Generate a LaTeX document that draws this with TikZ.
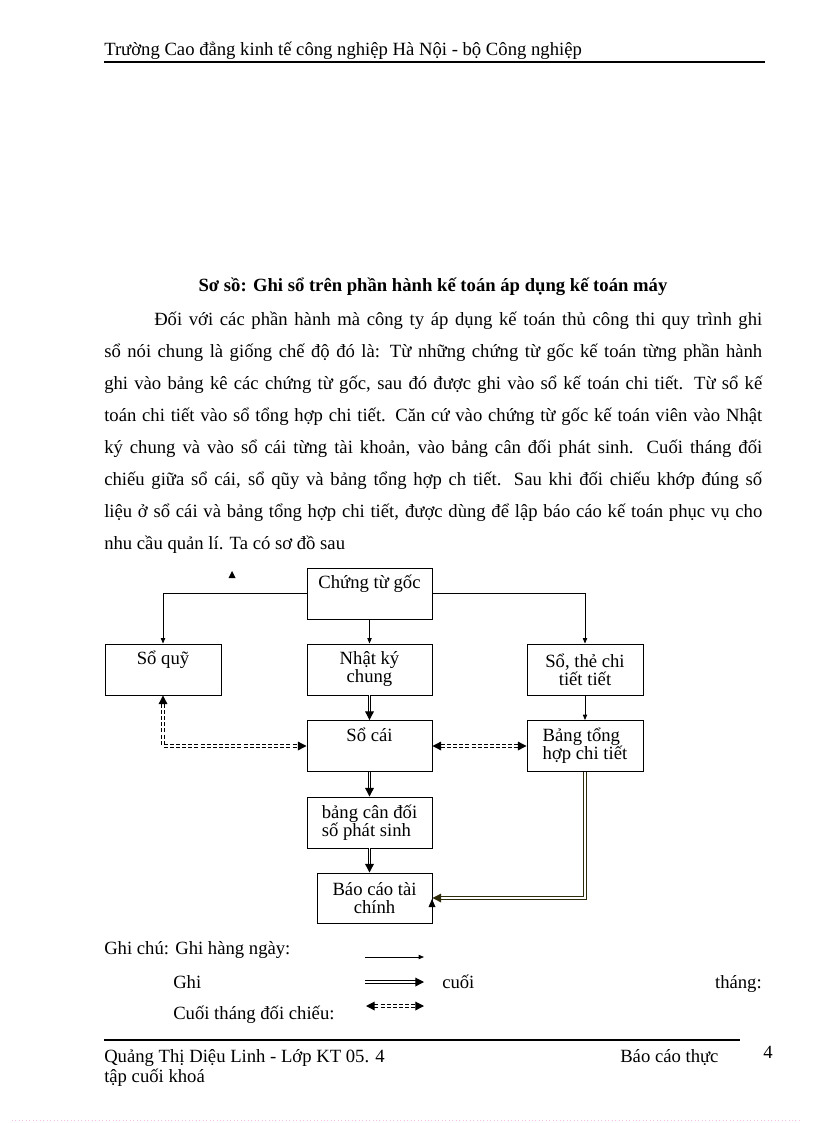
\documentclass[tikz,border=0pt]{standalone}
\usepackage{fontspec}
\setmainfont{Liberation Serif}
\usetikzlibrary{arrows.meta}
\definecolor{olivedark}{HTML}{2E2B0A}

\tikzset{
  hop/.style={draw, line width=0.7pt, minimum width=93.75pt, minimum height=38.25pt, inner sep=0pt, align=center},
  hopnho/.style={hop, minimum width=87pt},
  ghingay/.style={line width=0.6pt, -{Triangle[length=4pt,width=3.2pt]}},
  ghicuoi/.style={double, double distance=1.1pt, line width=0.9pt, -{Triangle[length=6.5pt,width=6.5pt]}},
  doichieu/.style={double, double distance=1.1pt, line width=0.9pt, dash pattern=on 3pt off 1.6pt,
    {Triangle[length=6.5pt,width=6.5pt]}-{Triangle[length=6.5pt,width=6.5pt]}},
  dong/.style={anchor=base west, inner sep=0pt}
}

\begin{document}
\begin{tikzpicture}[x=0.75pt, y=-0.75pt, font=\fontsize{14pt}{13.5pt}\selectfont]
\useasboundingbox (0,0) rectangle (816,1123);

% dau trang
\node[dong] (tentruong) at (104,56) {Trường Cao đẳng kinh tế công nghiệp Hà Nội - bộ Công nghiệp};
\draw[line width=1.5pt] (104,62) -- (765,62);

% tieu de va doan van
\node[anchor=base, inner sep=0pt, font=\fontsize{14pt}{13.5pt}\selectfont\bfseries] (tieude) at (433,291) {Sơ sồ: Ghi sổ trên phần hành kế toán áp dụng kế toán máy};
\node[dong] (d1) at (154,325) {\makebox[456pt][s]{Đối với các phần hành mà công ty áp dụng kế toán thủ công thi quy trình ghi}};
\node[dong] (d2) at (104,357) {\makebox[493.5pt][s]{sổ nói chung là giống chế độ đó là: Từ những chứng từ gốc kế toán từng phần hành}};
\node[dong] (d3) at (104,389) {\makebox[493.5pt][s]{ghi vào bảng kê các chứng từ gốc, sau đó được ghi vào sổ kế toán chi tiết. Từ sổ kế}};
\node[dong] (d4) at (104,421) {\makebox[493.5pt][s]{toán chi tiết vào sổ tổng hợp chi tiết. Căn cứ vào chứng từ gốc kế toán viên vào Nhật}};
\node[dong] (d5) at (104,453) {\makebox[493.5pt][s]{ký chung và vào sổ cái từng tài khoản, vào bảng cân đối phát sinh. Cuối tháng đối}};
\node[dong] (d6) at (104,485) {\makebox[493.5pt][s]{chiếu giữa sổ cái, sổ qũy và bảng tổng hợp ch tiết. Sau khi đối chiếu khớp đúng số}};
\node[dong] (d7) at (104,517) {\makebox[493.5pt][s]{liệu ở sổ cái và bảng tổng hợp chi tiết, được dùng để lập báo cáo kế toán phục vụ cho}};
\node[dong] (d8) at (104,549) {nhu cầu quản lí. Ta có sơ đồ sau};

% so do
\node[hop] (goc) at (369.5,593.5) {Chứng từ gốc\\\strut};
\node[hopnho] (quy) at (163,669.5) {Sổ quỹ\\\strut};
\node[hop] (nky) at (369.5,669.5) {Nhật ký\\chung};
\node[hopnho] (sothe) at (585,669.5) {Sổ, thẻ chi\\tiết tiết};
\node[hop] (socai) at (369.5,746) {Sổ cái\\\strut};
\node[hopnho, align=left] (tonghop) at (585,746) {Bảng tổng\\hợp chi tiết};
\node[hop, align=left] (candoi) at (369.5,822.5) {bảng cân đối\\số phát sinh};
\node[hop, minimum width=86.25pt, minimum height=37.5pt] (baocao) at (374.5,898) {Báo cáo tài\\chính};

\draw[ghingay] (goc.west) -| (quy.north);
\draw[ghingay] (goc.south) -- (nky.north);
\draw[ghingay] (goc.east) -| (sothe.north);
\draw[ghingay] (sothe.south) -- (tonghop.north);
\draw[ghicuoi] (nky.south) -- (socai.north);
\draw[ghicuoi] (socai.south) -- (candoi.north);
\draw[ghicuoi] (candoi.south) -- (candoi.south |- baocao.north);
\draw[ghicuoi, olivedark] (tonghop.south) |- (baocao.east);
\draw[doichieu] (quy.south) |- (socai.west);
\draw[doichieu] (socai.east) -- (tonghop.west);

% hai dau mui le
\fill (228.5,578) -- (235.5,578) -- (232,571) -- cycle;
\fill (428.5,907) -- (435.5,907) -- (432,899) -- cycle;

% ghi chu
\node[dong] (ghichu) at (104,954) {Ghi chú: Ghi hàng ngày:};
\coordinate (m1a) at (365,957);
\coordinate (m1b) at (424,957);
\draw[ghingay] (m1a) -- (m1b);
\node[dong] (ghi) at (173,988) {Ghi};
\coordinate (m2a) at (365,982);
\coordinate (m2b) at (424,982);
\draw[ghicuoi] (m2a) -- (m2b);
\node[dong] (cuoi) at (442,988) {cuối};
\node[anchor=base east, inner sep=0pt] (thang) at (762,988) {tháng:};
\node[dong] (doichieu) at (173,1019) {Cuối tháng đối chiếu:};
\coordinate (m3a) at (366,1006);
\coordinate (m3b) at (424,1006);
\draw[doichieu] (m3a) -- (m3b);

% chan trang
\draw[line width=1.5pt] (104,1040) -- (740,1040);
\node[dong] (tacgia) at (104,1062) {Quảng Thị Diệu Linh - Lớp KT 05. 4};
\node[dong] (baocaothuc) at (620,1062) {Báo cáo thực};
\node[dong] (trang) at (763,1058) {4};
\node[dong] (tapcuoi) at (104,1082) {tập cuối khoá};
\draw[magenta!25, dotted, line width=0.6pt] (12,1120) -- (800,1120);
\end{tikzpicture}
\end{document}
